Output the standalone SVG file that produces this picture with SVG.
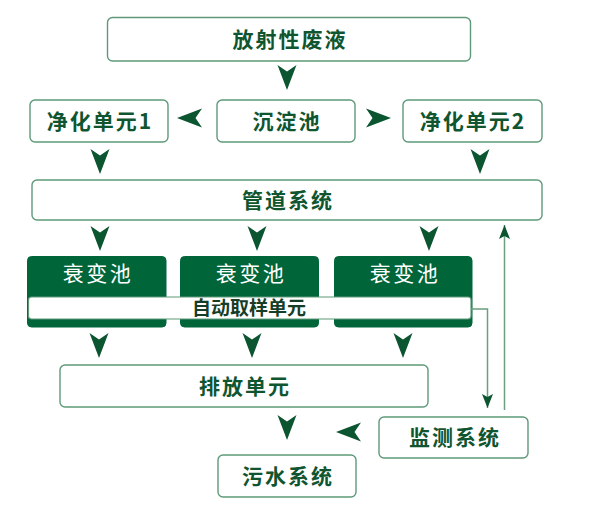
<svg xmlns="http://www.w3.org/2000/svg" xmlns:xlink="http://www.w3.org/1999/xlink" width="597" height="505" viewBox="0 0 597 505">
<style>
.box{fill:#ffffff;stroke:#5e9a7a;stroke-width:1.4}
.tank{fill:#00663a;stroke:#00663a;stroke-width:1}
.bar{fill:#ffffff;stroke:#5e9a7a;stroke-width:1.2}
.t{font-family:"Noto Sans CJK SC","Noto Sans",sans-serif;font-weight:700;font-size:21px;fill:#0f5530;text-anchor:middle;letter-spacing:2px}
.tw{font-family:"Noto Sans CJK SC","Noto Sans",sans-serif;font-weight:400;font-size:21px;fill:#ffffff;text-anchor:middle;letter-spacing:2.5px}
.ts{font-family:"Noto Sans CJK SC","Noto Sans",sans-serif;font-weight:700;font-size:19px;fill:#163d28;text-anchor:middle}
.arr{fill:#0b5530}
.ln{fill:none;stroke:#6a9f80;stroke-width:1.5}
</style>
<defs>
<path id="ad" class="arr" d="M-9.5,0 L0,6.5 L9.5,0 L0,25 Z"/>
<marker id="mh" viewBox="0 0 14 11" refX="14" refY="5.5" markerWidth="14" markerHeight="11" markerUnits="userSpaceOnUse" orient="auto">
<path d="M0,0 L14,5.5 L0,11 L3,5.5 Z" fill="#0b5530"/>
</marker>
</defs>

<g id="n-waste">
<rect class="box" x="107.5" y="17.5" width="363" height="43.5" rx="5"/>
<text class="t" x="290" y="47">放射性废液</text>
</g>
<g id="n-purify1">
<rect class="box" x="30" y="100" width="138" height="42" rx="5"/>
<text class="t" x="100" y="129">净化单元1</text>
</g>
<g id="n-settle">
<rect class="box" x="217" y="100" width="138" height="42" rx="5"/>
<text class="t" x="287" y="129">沉淀池</text>
</g>
<g id="n-purify2">
<rect class="box" x="403" y="100" width="139" height="42" rx="5"/>
<text class="t" x="473" y="129">净化单元2</text>
</g>
<g id="n-pipe">
<rect class="box" x="32" y="180" width="510" height="40" rx="5"/>
<text class="t" x="288" y="208">管道系统</text>
</g>
<g id="n-decay1">
<rect class="tank" x="27.5" y="256.5" width="138.5" height="70.5" rx="4"/>
<text class="tw" x="98" y="281">衰变池</text>
</g>
<g id="n-decay2">
<rect class="tank" x="180.5" y="256.5" width="138" height="70.5" rx="4"/>
<text class="tw" x="251" y="281">衰变池</text>
</g>
<g id="n-decay3">
<rect class="tank" x="334.5" y="256.5" width="137.5" height="70.5" rx="4"/>
<text class="tw" x="405" y="281">衰变池</text>
</g>
<g id="n-sampler">
<rect class="bar" x="28.5" y="297" width="442.5" height="22" rx="3"/>
<text class="ts" x="249" y="315">自动取样单元</text>
</g>
<g id="n-discharge">
<rect class="box" x="60" y="365" width="368" height="42" rx="5"/>
<text class="t" x="245" y="394">排放单元</text>
</g>
<g id="n-monitor">
<rect class="box" x="379" y="417" width="149" height="41" rx="5"/>
<text class="t" x="455" y="445">监测系统</text>
</g>
<g id="n-sewage">
<rect class="box" x="218" y="455" width="138" height="42" rx="5"/>
<text class="t" x="288" y="484">污水系统</text>
</g>

<g id="connectors">
<use xlink:href="#ad" x="287" y="65"/>
<use xlink:href="#ad" transform="translate(202,118) rotate(90)"/>
<use xlink:href="#ad" transform="translate(366,118) rotate(-90)"/>
<use xlink:href="#ad" x="100" y="149"/>
<use xlink:href="#ad" x="480" y="149"/>
<use xlink:href="#ad" x="100" y="226"/>
<use xlink:href="#ad" x="257" y="226"/>
<use xlink:href="#ad" x="429" y="226"/>
<use xlink:href="#ad" x="99" y="333"/>
<use xlink:href="#ad" x="252" y="333"/>
<use xlink:href="#ad" x="403" y="333"/>
<use xlink:href="#ad" x="287" y="415"/>
<use xlink:href="#ad" transform="translate(361,432) rotate(90)"/>
<path class="ln" d="M471,309 H487.5 V408" marker-end="url(#mh)"/>
<path class="ln" d="M504.5,410 V225" marker-end="url(#mh)"/>
</g>
</svg>
